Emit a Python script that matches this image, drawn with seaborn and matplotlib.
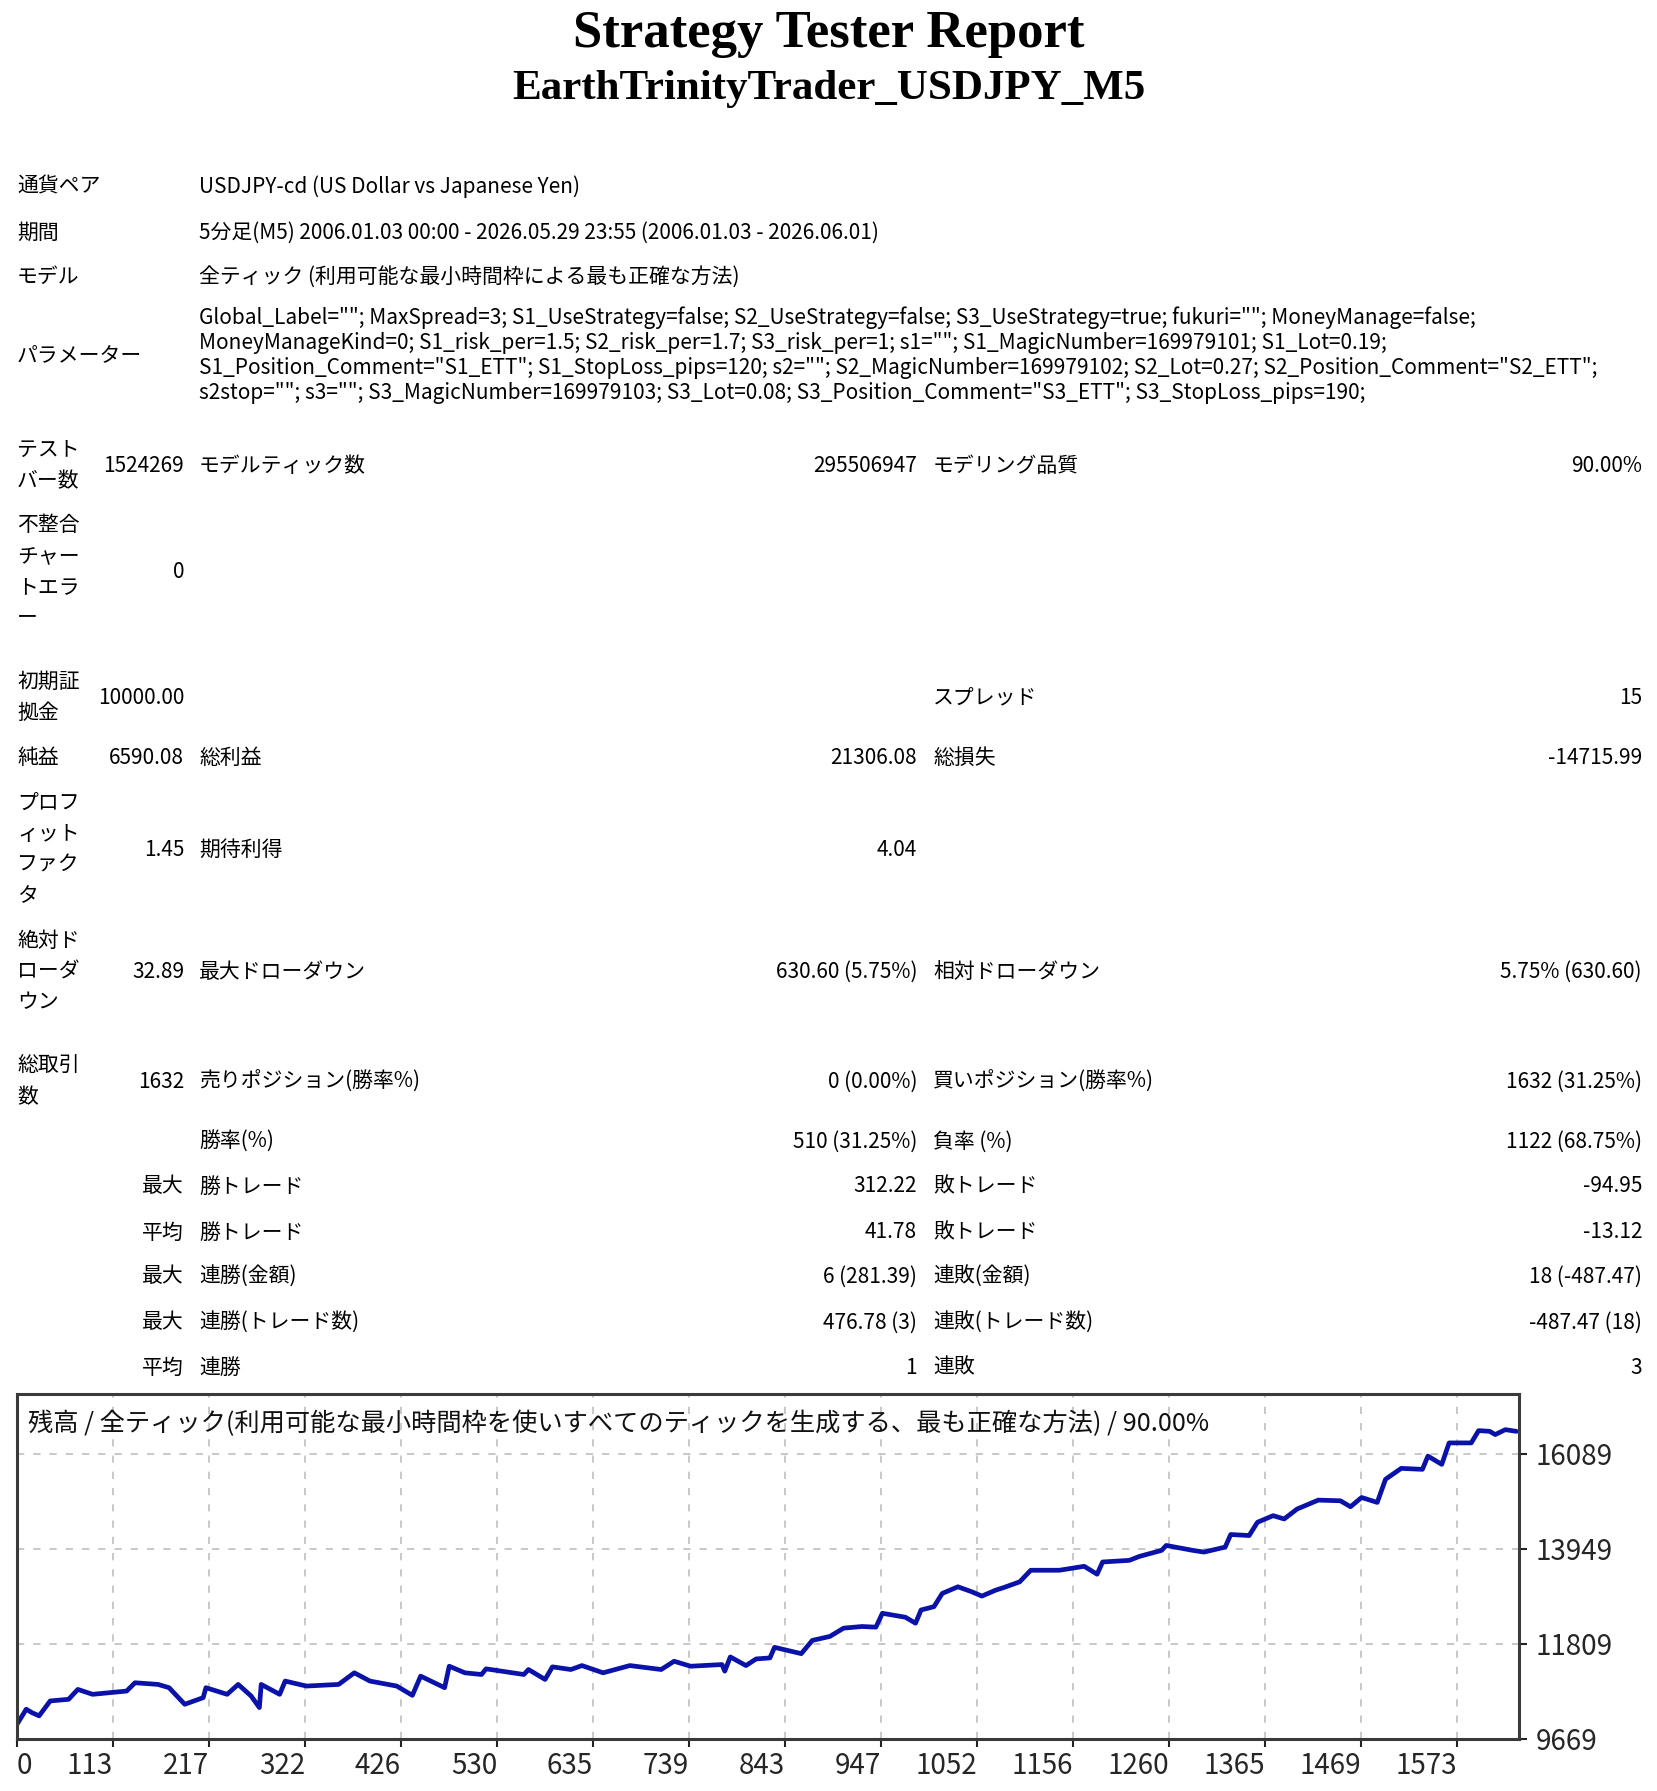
import numpy as np
import matplotlib
matplotlib.use("Agg")
import matplotlib.pyplot as plt
import seaborn as sns

# --- report header ---
report_title = "Strategy Tester Report"
report_subtitle = "EarthTrinityTrader_USDJPY_M5"

info_labels = ["通貨ペア", "期間", "モデル"]
info_values = [
    "USDJPY-cd (US Dollar vs Japanese Yen)",
    "5分足(M5) 2006.01.03 00:00 - 2026.05.29 23:55 (2006.01.03 - 2026.06.01)",
    "全ティック (利用可能な最小時間枠による最も正確な方法)",
]
param_label = "パラメーター"
param_lines = [
    'Global_Label=""; MaxSpread=3; S1_UseStrategy=false; S2_UseStrategy=false; S3_UseStrategy=true; fukuri=""; MoneyManage=false;',
    'MoneyManageKind=0; S1_risk_per=1.5; S2_risk_per=1.7; S3_risk_per=1; s1=""; S1_MagicNumber=169979101; S1_Lot=0.19;',
    'S1_Position_Comment="S1_ETT"; S1_StopLoss_pips=120; s2=""; S2_MagicNumber=169979102; S2_Lot=0.27; S2_Position_Comment="S2_ETT";',
    's2stop=""; s3=""; S3_MagicNumber=169979103; S3_Lot=0.08; S3_Position_Comment="S3_ETT"; S3_StopLoss_pips=190;',
]

# --- statistics table ---
stat_labels = [["テスト", "バー数"], ["不整合", "チャー", "トエラ", "ー"], ["初期証", "拠金"], ["純益"],
               ["プロフ", "ィット", "ファク", "タ"], ["絶対ド", "ローダ", "ウン"], ["総取引", "数"],
               [], [], [], [], [], []]
stat_v1 = ["1524269", "0", "10000.00", "6590.08", "1.45", "32.89", "1632",
           "", "最大", "平均", "最大", "最大", "平均"]
stat_l2 = ["モデルティック数", "", "", "総利益", "期待利得", "最大ドローダウン", "売りポジション(勝率%)",
           "勝率(%)", "勝トレード", "勝トレード", "連勝(金額)", "連勝(トレード数)", "連勝"]
stat_v2 = ["295506947", "", "", "21306.08", "4.04", "630.60 (5.75%)", "0 (0.00%)",
           "510 (31.25%)", "312.22", "41.78", "6 (281.39)", "476.78 (3)", "1"]
stat_l3 = ["モデリング品質", "", "スプレッド", "総損失", "", "相対ドローダウン", "買いポジション(勝率%)",
           "負率 (%)", "敗トレード", "敗トレード", "連敗(金額)", "連敗(トレード数)", "連敗"]
stat_v3 = ["90.00%", "", "15", "-14715.99", "", "5.75% (630.60)", "1632 (31.25%)",
           "1122 (68.75%)", "-94.95", "-13.12", "18 (-487.47)", "-487.47 (18)", "3"]

# --- balance curve (trade number, balance) ---
trade_no = [0, 10, 16, 24, 36, 56, 66, 82, 119, 128, 153, 165, 182, 202, 205, 228, 240, 254,
            263, 265, 285, 291, 314, 349, 366, 383, 412, 429, 438, 464, 469, 486, 504, 509,
            550, 555, 573, 581, 601, 613, 636, 665, 699, 713, 731, 765, 768, 774, 791, 802,
            817, 822, 851, 863, 882, 897, 917, 932, 939, 964, 975, 981, 995, 1004, 1021,
            1036, 1047, 1062, 1071, 1088, 1100, 1131, 1158, 1172, 1178, 1207, 1218, 1242,
            1247, 1276, 1288, 1311, 1317, 1337, 1346, 1363, 1375, 1389, 1412, 1436, 1447,
            1459, 1476, 1485, 1502, 1525, 1531, 1546, 1554, 1578, 1586, 1598, 1604, 1615, 1627]
balance = [10000, 10339, 10264, 10190, 10525, 10562, 10785, 10674, 10748, 10934, 10897, 10823,
           10450, 10599, 10823, 10674, 10897, 10637, 10376, 10897, 10674, 10972, 10860, 10897,
           11158, 10972, 10860, 10651, 11083, 10823, 11306, 11158, 11120, 11247, 11120, 11232,
           11009, 11292, 11232, 11321, 11158, 11321, 11232, 11418, 11306, 11344, 11195, 11515,
           11321, 11470, 11493, 11731, 11589, 11887, 11976, 12163, 12200, 12185, 12497, 12408,
           12274, 12572, 12646, 12944, 13093, 12981, 12884, 13018, 13078, 13204, 13465, 13465,
           13554, 13376, 13651, 13688, 13777, 13912, 14023, 13912, 13874, 13986, 14269, 14246,
           14544, 14693, 14619, 14842, 15043, 15028, 14894, 15102, 14991, 15512, 15757, 15735,
           16033, 15847, 16330, 16330, 16606, 16591, 16517, 16628, 16590]

x_tick_labels = ["0", "113", "217", "322", "426", "530", "635", "739", "843", "947",
                 "1052", "1156", "1260", "1365", "1469", "1573"]
y_ticks = [9669, 11809, 13949, 16089]
chart_title = "残高 / 全ティック(利用可能な最小時間枠を使いすべてのティックを生成する、最も正確な方法) / 90.00%"

# --- style ---
sns.set_style("white")
plt.rcParams["font.family"] = ["Noto Sans CJK JP", "DejaVu Sans"]

W, H = 1657, 1791
fig = plt.figure(figsize=(W / 100, H / 100), dpi=100)
fig.patch.set_facecolor("white")


def put(x, y, s, **kw):
    """Place text using pixel coordinates measured from the top-left."""
    kw.setdefault("fontsize", 15)
    kw.setdefault("va", "center_baseline")
    kw.setdefault("color", "black")
    fig.text(x / W, 1 - y / H, s, **kw)


# header
put(829, 34, report_title, ha="center", va="center", fontsize=38,
    fontweight="bold", family="Liberation Serif")
put(829, 89, report_subtitle, ha="center", va="center", fontsize=31,
    fontweight="bold", family="Liberation Serif")

X_LAB, X_V1, X_L2, X_V2, X_L3, X_V3 = 17, 184, 199, 917, 933, 1642

for lab, val, y in zip(info_labels, info_values, [184, 230, 274]):
    put(X_LAB, y, lab)
    put(X_L2, y, val)

put(X_LAB, 354, param_label)
for i, line in enumerate(param_lines):
    put(X_L2, 315 + i * 25.3, line)

row_y = [463, 569, 695, 755, 847, 969, 1079, 1139, 1184, 1230, 1274, 1320, 1365]
LINE = 31
for i, y in enumerate(row_y):
    n = len(stat_labels[i])
    for j, part in enumerate(stat_labels[i]):
        put(X_LAB, y + (j - (n - 1) / 2) * LINE, part)
    put(X_V1, y, stat_v1[i], ha="right")
    put(X_L2, y, stat_l2[i])
    put(X_V2, y, stat_v2[i], ha="right")
    put(X_L3, y, stat_l3[i])
    put(X_V3, y, stat_v3[i], ha="right")

# --- balance chart ---
AX_L, AX_R, AX_T, AX_B = 17, 1519, 1394, 1739
ax = fig.add_axes([AX_L / W, 1 - AX_B / H, (AX_R - AX_L) / W, (AX_B - AX_T) / H])
ax.set_facecolor("white")

sns.lineplot(x=trade_no, y=balance, ax=ax, color="#0a12aa", linewidth=3.4,
             estimator=None, sort=False)

px_per_trade = 96 / 104.17
x_max = (AX_R - AX_L) / px_per_trade
ax.set_xlim(0, x_max)
ax.set_ylim(9669, 17430)

x_pos = np.arange(len(x_tick_labels)) * 104.17
ax.set_xticks(x_pos)
ax.set_xticklabels(x_tick_labels, fontsize=20)
for k, t in enumerate(ax.get_xticklabels()):
    t.set_ha("left" if k == 0 else "right")
ax.yaxis.tick_right()
ax.set_yticks(y_ticks)
ax.set_yticklabels([str(v) for v in y_ticks], fontsize=20)
ax.tick_params(axis="x", direction="out", length=6, width=1.5, color="#222222", pad=3,
               bottom=True)
ax.tick_params(axis="y", direction="out", length=6, width=1.5, color="#222222", pad=6,
               right=True, left=False)

ax.grid(True, linestyle=(0, (4, 5)), color="#c4c4c4", linewidth=1.3)
ax.set_axisbelow(True)
for side in ["top", "bottom", "left", "right"]:
    ax.spines[side].set_visible(True)
    ax.spines[side].set_color("#3a3a3a")
    ax.spines[side].set_linewidth(2.2)
ax.set_xlabel("")
ax.set_ylabel("")

put(28, 1421, chart_title, fontsize=18.2, color="#111111")

fig.savefig("out.png", dpi=100, facecolor="white")
